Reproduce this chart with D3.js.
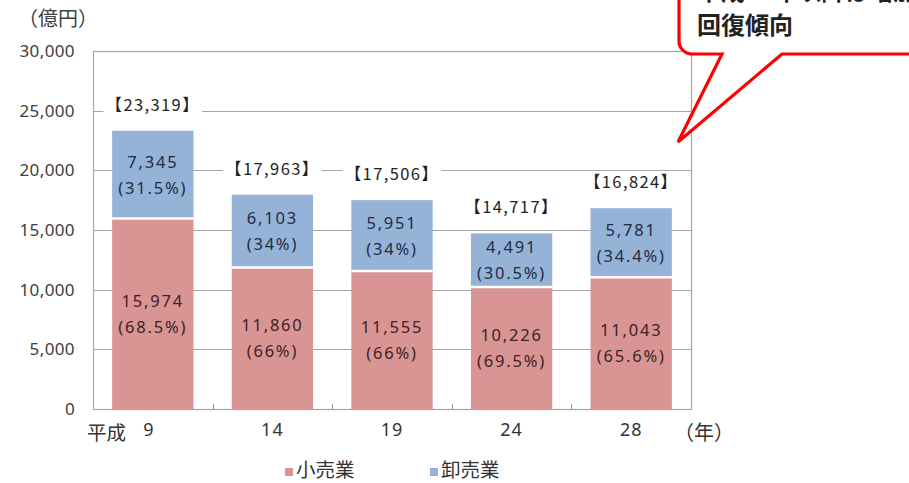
<!DOCTYPE html>
<html lang="ja">
<head>
<meta charset="utf-8">
<script src="https://cdn.jsdelivr.net/npm/d3@7"></script>
<style>
  html, body { margin: 0; padding: 0; background: #fff; }
  svg { display: block; font-family: "Noto Sans CJK JP", "Noto Sans", sans-serif; }
</style>
</head>
<body>
<svg id="chart" width="909" height="483"></svg>
<script>
// 年次（平成）
const years = ["9", "14", "19", "24", "28"];
// 小売業（億円）
const retail = [15974, 11860, 11555, 10226, 11043];
// 卸売業（億円）
const wholesale = [7345, 6103, 5951, 4491, 5781];
// 合計（億円）
const totals = [23319, 17963, 17506, 14717, 16824];
// 構成比
const retailShare = ["68.5%", "66%", "66%", "69.5%", "65.6%"];
const wholesaleShare = ["31.5%", "34%", "34%", "30.5%", "34.4%"];
// 縦軸目盛
const yTicks = [0, 5000, 10000, 15000, 20000, 25000, 30000];
// 凡例
const seriesNames = ["小売業", "卸売業"];

const colors = { retail: "#d99594", wholesale: "#95b3d7", grid: "#a6a6a6" };

const svg = d3.select("#chart");
const plot = { left: 93, right: 691, top: 51, bottom: 409 };

const x = d3.scaleBand().domain(years).range([plot.left, plot.right]).paddingInner(0.32).paddingOuter(0.16);
const xb = d3.scaleBand().domain(years).range([plot.left, plot.right]);
const y = d3.scaleLinear().domain([0, 30000]).range([plot.bottom, plot.top]);
const fmt = d3.format(",");

// 目盛線
svg.append("g").selectAll("line").data(yTicks.filter(d => d > 0 && d < 30000)).join("line")
  .attr("x1", plot.left).attr("x2", plot.right)
  .attr("y1", d => Math.round(y(d)) + 0.5).attr("y2", d => Math.round(y(d)) + 0.5)
  .attr("stroke", colors.grid).attr("stroke-width", 1);

// 枠
svg.append("rect")
  .attr("x", plot.left + 0.5).attr("y", plot.top + 0.5)
  .attr("width", plot.right - plot.left).attr("height", plot.bottom - plot.top)
  .attr("fill", "none").attr("stroke", colors.grid).attr("stroke-width", 1.2);

// 横軸の区切り目盛
svg.append("g").selectAll("line").data(years.slice(1)).join("line")
  .attr("x1", d => Math.round(xb(d)) + 0.5).attr("x2", d => Math.round(xb(d)) + 0.5)
  .attr("y1", plot.bottom - 5).attr("y2", plot.bottom)
  .attr("stroke", "#8c8c8c");

// 縦軸ラベル
const yAxis = d3.axisLeft(y).tickValues(yTicks).tickFormat(fmt).tickSize(0).tickPadding(18);
const gy = svg.append("g").attr("transform", `translate(${plot.left},0)`).call(yAxis);
gy.select(".domain").remove();
gy.selectAll("text").attr("font-size", 17).attr("fill", "#404040")
  .attr("font-family", "'Noto Sans', 'DejaVu Sans', sans-serif").attr("letter-spacing", 0.4);

svg.append("text").attr("x", 18).attr("y", 26).attr("font-size", 20).attr("fill", "#404040").text("（億円）");

// 横軸ラベル
const xAxis = d3.axisBottom(x).tickSize(0).tickPadding(14);
const gx = svg.append("g").attr("transform", `translate(0,${plot.bottom})`).call(xAxis);
gx.select(".domain").remove();
gx.selectAll("text").attr("font-size", 18).attr("fill", "#333")
  .attr("font-family", "'Noto Sans', 'DejaVu Sans', sans-serif").attr("letter-spacing", 1)
  .attr("dx", (d, i) => i === 0 ? -4 : 0);
svg.append("text").attr("x", 87).attr("y", 440).attr("font-size", 19.5).attr("fill", "#333").text("平成");
svg.append("text").attr("x", 674).attr("y", 440).attr("font-size", 20).attr("fill", "#333").text("（年）");

// 積み上げ棒
const bars = svg.append("g");
bars.selectAll("rect.retail").data(years).join("rect").attr("class", "retail")
  .attr("x", d => x(d)).attr("width", x.bandwidth())
  .attr("y", (d, i) => y(retail[i])).attr("height", (d, i) => y(0) - y(retail[i]))
  .attr("fill", colors.retail);
bars.selectAll("rect.wholesale").data(years).join("rect").attr("class", "wholesale")
  .attr("x", d => x(d)).attr("width", x.bandwidth())
  .attr("y", (d, i) => y(retail[i] + wholesale[i])).attr("height", (d, i) => y(retail[i]) - y(retail[i] + wholesale[i]))
  .attr("fill", colors.wholesale);
// 系列の境目の白線
bars.selectAll("line.sep").data(years).join("line").attr("class", "sep")
  .attr("x1", d => x(d)).attr("x2", d => x(d) + x.bandwidth())
  .attr("y1", (d, i) => y(retail[i])).attr("y2", (d, i) => y(retail[i]))
  .attr("stroke", "#fff").attr("stroke-width", 2.5);

const labelFont = "'Noto Sans', 'DejaVu Sans', sans-serif";
function segmentLabel(i, lo, hi, value, share, color) {
  const cx = x(years[i]) + x.bandwidth() / 2;
  const cy = (y(lo) + y(hi)) / 2;
  const t = svg.append("text").attr("text-anchor", "middle").attr("font-size", 16.5)
    .attr("fill", color).attr("font-family", labelFont).attr("letter-spacing", 1.8);
  t.append("tspan").attr("x", cx).attr("y", cy - 7).text(fmt(value));
  t.append("tspan").attr("x", cx).attr("y", cy + 19).text(`(${share})`);
}
years.forEach((d, i) => {
  segmentLabel(i, 0, retail[i], retail[i], retailShare[i], "#3d2222");
  segmentLabel(i, retail[i], retail[i] + wholesale[i], wholesale[i], wholesaleShare[i], "#1f2b45");
});

// 合計ラベル（白地で目盛線を隠す）
years.forEach((d, i) => {
  const cx = x(d) + x.bandwidth() / 2;
  const g = svg.append("g");
  const t = g.append("text").attr("x", cx).attr("y", y(totals[i]) - 20)
    .attr("text-anchor", "middle").attr("font-size", 16.5).attr("fill", "#222")
    .attr("font-family", "'Noto Sans CJK JP', sans-serif").attr("letter-spacing", 1.4)
    .text(`【${fmt(totals[i])}】`);
  const bb = t.node().getBBox();
  g.insert("rect", "text").attr("x", bb.x - 2).attr("y", bb.y + 2)
    .attr("width", bb.width + 4).attr("height", bb.height - 4).attr("fill", "#fff");
});

// 凡例
const legend = svg.append("g");
const legendX = [285, 430];
seriesNames.forEach((name, i) => {
  legend.append("rect").attr("x", legendX[i]).attr("y", 468).attr("width", 8).attr("height", 8)
    .attr("fill", i === 0 ? colors.retail : colors.wholesale);
  legend.append("text").attr("x", legendX[i] + 11).attr("y", 477).attr("font-size", 19.5)
    .attr("fill", "#333").text(name);
});

// 吹き出し
const call = svg.append("g");
const bx = 679, by = -30, bw = 260, bh = 84, r = 13;
const path = d3.path();
path.moveTo(bx + r, by);
path.lineTo(bx + bw, by);
path.lineTo(bx + bw, by + bh);
path.lineTo(782, by + bh);
path.lineTo(678, 142);
path.lineTo(722, by + bh);
path.lineTo(bx + r, by + bh);
path.arcTo(bx, by + bh, bx, by + bh - r, r);
path.lineTo(bx, by + r);
path.closePath();
call.append("path").attr("d", path.toString()).attr("fill", "#fff")
  .attr("stroke", "#ff0000").attr("stroke-width", 3.2).attr("stroke-linejoin", "miter");
call.append("text").attr("x", 697).attr("y", 0).attr("font-size", 24).attr("font-weight", 700)
  .attr("fill", "#222").text("平成24年以降は増加、");
call.append("text").attr("x", 697).attr("y", 34).attr("font-size", 24).attr("font-weight", 700)
  .attr("fill", "#222").text("回復傾向");
</script>
</body>
</html>
